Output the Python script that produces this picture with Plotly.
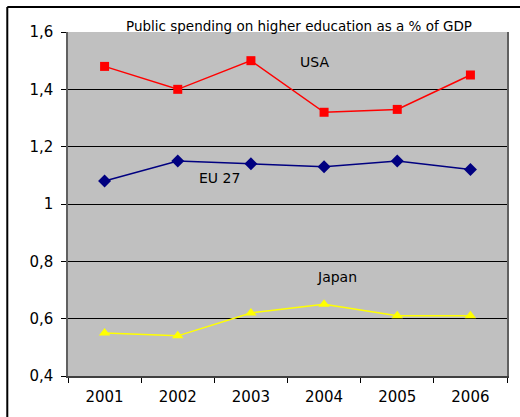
import plotly.graph_objects as go

# Public spending on higher education, % of GDP
years = ["2001", "2002", "2003", "2004", "2005", "2006"]
usa = [1.48, 1.40, 1.50, 1.32, 1.33, 1.45]
eu27 = [1.08, 1.15, 1.14, 1.13, 1.15, 1.12]
japan = [0.55, 0.54, 0.62, 0.65, 0.61, 0.61]

FONT = "DejaVu Sans"

fig = go.Figure()

fig.add_trace(go.Scatter(
    x=years, y=usa, name="USA", mode="lines+markers",
    line=dict(color="#FF0000", width=1.5),
    marker=dict(symbol="square", size=9, color="#FF0000"),
))
fig.add_trace(go.Scatter(
    x=years, y=eu27, name="EU 27", mode="lines+markers",
    line=dict(color="#000080", width=1.5),
    marker=dict(symbol="diamond", size=10, color="#000080"),
))
fig.add_trace(go.Scatter(
    x=years, y=japan, name="Japan", mode="lines+markers",
    line=dict(color="#FFFF00", width=1.5),
    marker=dict(symbol="triangle-up", size=10, color="#FFFF00"),
))

# series names written inside the plot area
for txt, xx, yy in [("USA", 2.87, 1.496), ("EU 27", 1.57, 1.092), ("Japan", 3.17, 0.744)]:
    fig.add_annotation(x=xx, y=yy, xref="x", yref="y", text=txt, showarrow=False,
                       font=dict(family=FONT, size=14, color="#000000"))

# chart title
fig.add_annotation(x=0.526, y=1.046, xref="paper", yref="paper",
                   text="Public spending on higher education as a % of GDP",
                   showarrow=False, font=dict(family=FONT, size=13.5, color="#000000"))

# outer chart frame (left and top edges)
fig.add_shape(type="line", xref="paper", yref="paper", x0=-0.1383, x1=-0.1383,
              y0=-0.2, y1=1.0725, line=dict(color="#000000", width=2))
fig.add_shape(type="line", xref="paper", yref="paper", x0=-0.1383, x1=1.1,
              y0=1.0725, y1=1.0725, line=dict(color="#000000", width=2))

fig.update_layout(
    width=520, height=417,
    margin=dict(l=68, r=11, t=32, b=40),
    paper_bgcolor="#FFFFFF",
    plot_bgcolor="#C0C0C0",
    showlegend=False,
    separators=", ",
    font=dict(family=FONT, size=14, color="#000000"),
)
fig.update_xaxes(
    type="category", range=[-0.5, 5.5], showgrid=False,
    showline=True, linecolor="#404040", linewidth=1.5, mirror=False,
    ticks="outside", tickson="boundaries", ticklen=5, tickcolor="#000000",
    ticklabelstandoff=6,
    tickfont=dict(family=FONT, size=15, color="#000000"),
)
fig.update_yaxes(
    range=[0.4, 1.6], dtick=0.2, tick0=0.4,
    showgrid=True, gridcolor="#000000", gridwidth=1,
    showline=True, linecolor="#606060", linewidth=1.5, mirror=True,
    ticks="outside", ticklen=5, tickcolor="#000000",
    ticklabelstandoff=5,
    tickfont=dict(family=FONT, size=15, color="#000000"),
    zeroline=False,
)

fig.write_html("out.html")
